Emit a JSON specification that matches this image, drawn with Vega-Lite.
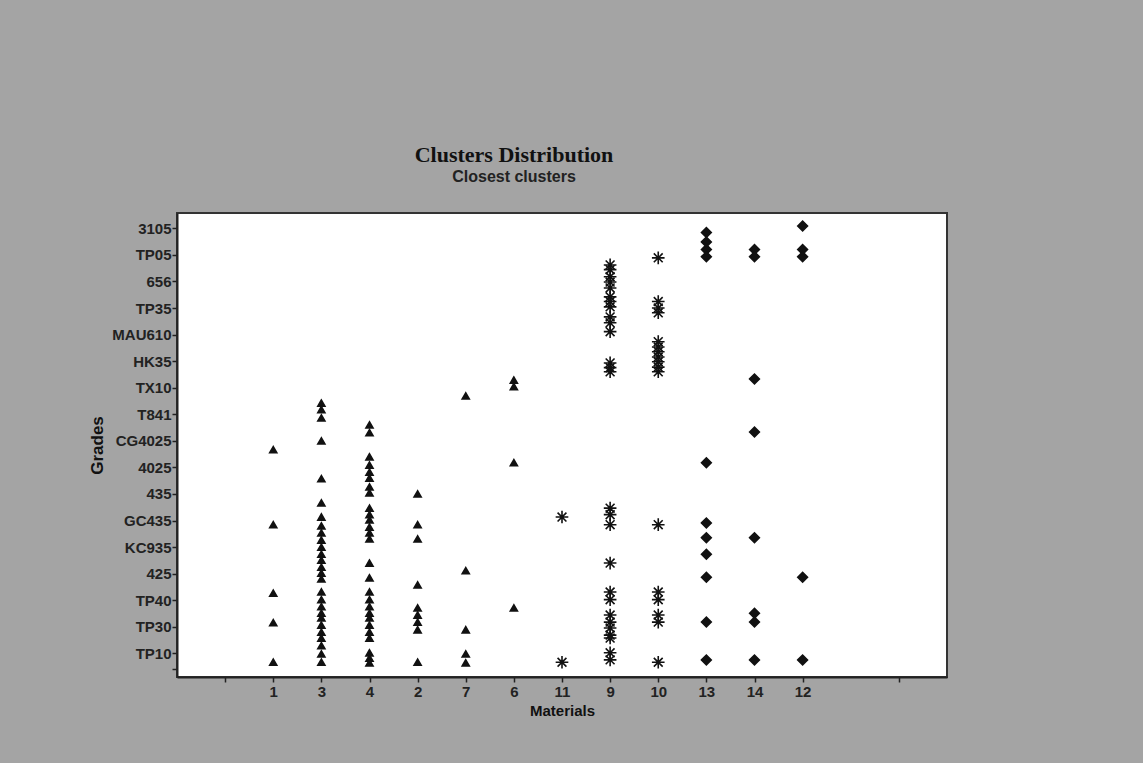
{
  "$schema": "https://vega.github.io/schema/vega-lite/v6.json",
  "autosize": {"type": "none"},
  "width": 770,
  "height": 464,
  "padding": {"left": 177, "top": 213, "right": 196, "bottom": 86},
  "background": "#a4a4a4",
  "title": {
    "text": "Clusters Distribution",
    "subtitle": "Closest clusters",
    "anchor": "middle",
    "dx": -48,
    "offset": 27,
    "font": "Liberation Serif",
    "fontSize": 22,
    "fontWeight": "bold",
    "color": "#111111",
    "subtitleFont": "Liberation Sans",
    "subtitleFontSize": 16,
    "subtitleFontWeight": "bold",
    "subtitleColor": "#222222",
    "subtitlePadding": 2
  },
  "config": {
    "view": {"fill": "#ffffff", "stroke": "#333333", "strokeWidth": 2},
    "axis": {
      "labelFont": "Liberation Sans",
      "labelFontSize": 15,
      "labelFontWeight": "bold",
      "labelColor": "#222222",
      "titleFont": "Liberation Sans",
      "titleFontWeight": "bold",
      "titleColor": "#111111",
      "domainColor": "#222222",
      "domainWidth": 2,
      "tickColor": "#222222",
      "tickWidth": 1.5,
      "grid": false
    }
  },
  "data": {
    "values": [
      {"material": "1", "grade": 38.5, "cluster": "1"},
      {"material": "1", "grade": 25.8, "cluster": "1"},
      {"material": "1", "grade": 14.2, "cluster": "1"},
      {"material": "1", "grade": 9.2, "cluster": "1"},
      {"material": "1", "grade": 2.5, "cluster": "1"},
      {"material": "3", "grade": 46.4, "cluster": "1"},
      {"material": "3", "grade": 45.3, "cluster": "1"},
      {"material": "3", "grade": 43.9, "cluster": "1"},
      {"material": "3", "grade": 40.0, "cluster": "1"},
      {"material": "3", "grade": 33.6, "cluster": "1"},
      {"material": "3", "grade": 29.5, "cluster": "1"},
      {"material": "3", "grade": 27.1, "cluster": "1"},
      {"material": "3", "grade": 25.6, "cluster": "1"},
      {"material": "3", "grade": 24.4, "cluster": "1"},
      {"material": "3", "grade": 23.2, "cluster": "1"},
      {"material": "3", "grade": 22.0, "cluster": "1"},
      {"material": "3", "grade": 20.8, "cluster": "1"},
      {"material": "3", "grade": 19.8, "cluster": "1"},
      {"material": "3", "grade": 18.6, "cluster": "1"},
      {"material": "3", "grade": 17.6, "cluster": "1"},
      {"material": "3", "grade": 16.6, "cluster": "1"},
      {"material": "3", "grade": 14.4, "cluster": "1"},
      {"material": "3", "grade": 13.1, "cluster": "1"},
      {"material": "3", "grade": 11.9, "cluster": "1"},
      {"material": "3", "grade": 10.8, "cluster": "1"},
      {"material": "3", "grade": 10.0, "cluster": "1"},
      {"material": "3", "grade": 8.8, "cluster": "1"},
      {"material": "3", "grade": 7.6, "cluster": "1"},
      {"material": "3", "grade": 6.6, "cluster": "1"},
      {"material": "3", "grade": 5.3, "cluster": "1"},
      {"material": "3", "grade": 3.9, "cluster": "1"},
      {"material": "3", "grade": 2.5, "cluster": "1"},
      {"material": "4", "grade": 42.7, "cluster": "1"},
      {"material": "4", "grade": 41.4, "cluster": "1"},
      {"material": "4", "grade": 37.3, "cluster": "1"},
      {"material": "4", "grade": 35.9, "cluster": "1"},
      {"material": "4", "grade": 34.7, "cluster": "1"},
      {"material": "4", "grade": 33.7, "cluster": "1"},
      {"material": "4", "grade": 32.2, "cluster": "1"},
      {"material": "4", "grade": 31.2, "cluster": "1"},
      {"material": "4", "grade": 28.6, "cluster": "1"},
      {"material": "4", "grade": 27.5, "cluster": "1"},
      {"material": "4", "grade": 26.6, "cluster": "1"},
      {"material": "4", "grade": 25.4, "cluster": "1"},
      {"material": "4", "grade": 24.4, "cluster": "1"},
      {"material": "4", "grade": 23.4, "cluster": "1"},
      {"material": "4", "grade": 19.3, "cluster": "1"},
      {"material": "4", "grade": 16.8, "cluster": "1"},
      {"material": "4", "grade": 14.4, "cluster": "1"},
      {"material": "4", "grade": 13.1, "cluster": "1"},
      {"material": "4", "grade": 11.9, "cluster": "1"},
      {"material": "4", "grade": 10.8, "cluster": "1"},
      {"material": "4", "grade": 10.0, "cluster": "1"},
      {"material": "4", "grade": 8.8, "cluster": "1"},
      {"material": "4", "grade": 7.6, "cluster": "1"},
      {"material": "4", "grade": 6.6, "cluster": "1"},
      {"material": "4", "grade": 4.1, "cluster": "1"},
      {"material": "4", "grade": 3.2, "cluster": "1"},
      {"material": "4", "grade": 2.4, "cluster": "1"},
      {"material": "2", "grade": 31.0, "cluster": "1"},
      {"material": "2", "grade": 25.8, "cluster": "1"},
      {"material": "2", "grade": 23.4, "cluster": "1"},
      {"material": "2", "grade": 15.6, "cluster": "1"},
      {"material": "2", "grade": 11.7, "cluster": "1"},
      {"material": "2", "grade": 10.5, "cluster": "1"},
      {"material": "2", "grade": 9.3, "cluster": "1"},
      {"material": "2", "grade": 8.0, "cluster": "1"},
      {"material": "2", "grade": 2.5, "cluster": "1"},
      {"material": "7", "grade": 47.6, "cluster": "1"},
      {"material": "7", "grade": 18.0, "cluster": "1"},
      {"material": "7", "grade": 8.0, "cluster": "1"},
      {"material": "7", "grade": 3.9, "cluster": "1"},
      {"material": "7", "grade": 2.4, "cluster": "1"},
      {"material": "6", "grade": 50.3, "cluster": "1"},
      {"material": "6", "grade": 49.2, "cluster": "1"},
      {"material": "6", "grade": 36.3, "cluster": "1"},
      {"material": "6", "grade": 11.7, "cluster": "1"},
      {"material": "11", "grade": 27.1, "cluster": "2"},
      {"material": "11", "grade": 2.5, "cluster": "2"},
      {"material": "9", "grade": 69.8, "cluster": "2"},
      {"material": "9", "grade": 69.0, "cluster": "2"},
      {"material": "9", "grade": 67.8, "cluster": "2"},
      {"material": "9", "grade": 66.9, "cluster": "2"},
      {"material": "9", "grade": 65.9, "cluster": "2"},
      {"material": "9", "grade": 64.4, "cluster": "2"},
      {"material": "9", "grade": 63.6, "cluster": "2"},
      {"material": "9", "grade": 62.7, "cluster": "2"},
      {"material": "9", "grade": 61.0, "cluster": "2"},
      {"material": "9", "grade": 60.0, "cluster": "2"},
      {"material": "9", "grade": 58.5, "cluster": "2"},
      {"material": "9", "grade": 53.2, "cluster": "2"},
      {"material": "9", "grade": 52.4, "cluster": "2"},
      {"material": "9", "grade": 51.7, "cluster": "2"},
      {"material": "9", "grade": 28.6, "cluster": "2"},
      {"material": "9", "grade": 27.5, "cluster": "2"},
      {"material": "9", "grade": 25.8, "cluster": "2"},
      {"material": "9", "grade": 19.3, "cluster": "2"},
      {"material": "9", "grade": 14.4, "cluster": "2"},
      {"material": "9", "grade": 13.1, "cluster": "2"},
      {"material": "9", "grade": 10.5, "cluster": "2"},
      {"material": "9", "grade": 9.3, "cluster": "2"},
      {"material": "9", "grade": 8.3, "cluster": "2"},
      {"material": "9", "grade": 7.1, "cluster": "2"},
      {"material": "9", "grade": 6.6, "cluster": "2"},
      {"material": "9", "grade": 4.1, "cluster": "2"},
      {"material": "9", "grade": 2.9, "cluster": "2"},
      {"material": "10", "grade": 71.0, "cluster": "2"},
      {"material": "10", "grade": 63.6, "cluster": "2"},
      {"material": "10", "grade": 62.5, "cluster": "2"},
      {"material": "10", "grade": 61.7, "cluster": "2"},
      {"material": "10", "grade": 56.8, "cluster": "2"},
      {"material": "10", "grade": 55.9, "cluster": "2"},
      {"material": "10", "grade": 55.1, "cluster": "2"},
      {"material": "10", "grade": 54.2, "cluster": "2"},
      {"material": "10", "grade": 53.4, "cluster": "2"},
      {"material": "10", "grade": 52.5, "cluster": "2"},
      {"material": "10", "grade": 51.7, "cluster": "2"},
      {"material": "10", "grade": 25.8, "cluster": "2"},
      {"material": "10", "grade": 14.4, "cluster": "2"},
      {"material": "10", "grade": 13.1, "cluster": "2"},
      {"material": "10", "grade": 10.5, "cluster": "2"},
      {"material": "10", "grade": 9.3, "cluster": "2"},
      {"material": "10", "grade": 2.5, "cluster": "2"},
      {"material": "13", "grade": 75.3, "cluster": "3"},
      {"material": "13", "grade": 73.7, "cluster": "3"},
      {"material": "13", "grade": 72.4, "cluster": "3"},
      {"material": "13", "grade": 71.2, "cluster": "3"},
      {"material": "13", "grade": 36.3, "cluster": "3"},
      {"material": "13", "grade": 26.1, "cluster": "3"},
      {"material": "13", "grade": 23.6, "cluster": "3"},
      {"material": "13", "grade": 20.8, "cluster": "3"},
      {"material": "13", "grade": 16.9, "cluster": "3"},
      {"material": "13", "grade": 9.3, "cluster": "3"},
      {"material": "13", "grade": 2.9, "cluster": "3"},
      {"material": "14", "grade": 72.4, "cluster": "3"},
      {"material": "14", "grade": 71.2, "cluster": "3"},
      {"material": "14", "grade": 50.5, "cluster": "3"},
      {"material": "14", "grade": 41.5, "cluster": "3"},
      {"material": "14", "grade": 23.6, "cluster": "3"},
      {"material": "14", "grade": 10.8, "cluster": "3"},
      {"material": "14", "grade": 9.3, "cluster": "3"},
      {"material": "14", "grade": 2.9, "cluster": "3"},
      {"material": "12", "grade": 76.4, "cluster": "3"},
      {"material": "12", "grade": 72.4, "cluster": "3"},
      {"material": "12", "grade": 71.2, "cluster": "3"},
      {"material": "12", "grade": 16.9, "cluster": "3"},
      {"material": "12", "grade": 2.9, "cluster": "3"}
    ]
  },
  "mark": {"type": "point", "filled": true, "opacity": 1, "stroke": "#111111", "strokeWidth": 1.6, "fill": "#111111"},
  "encoding": {
    "x": {
      "field": "material",
      "type": "ordinal",
      "scale": {
        "type": "point",
        "domain": ["s1", "1", "3", "4", "2", "7", "6", "11", "9", "10", "13", "14", "12", "s14", "s15"],
        "padding": 1
      },
      "axis": {
        "values": ["s1", "1", "3", "4", "2", "7", "6", "11", "9", "10", "13", "14", "12", "s15"],
        "labelExpr": "indexof(datum.value, 's') == 0 ? '' : datum.value",
        "labelAngle": 0,
        "tickSize": 5,
        "labelPadding": 2,
        "title": "Materials",
        "titleFontSize": 15,
        "titlePadding": 4
      }
    },
    "y": {
      "field": "grade",
      "type": "quantitative",
      "scale": {"domain": [0, 78.6], "nice": false, "zero": false},
      "axis": {
        "values": [1.3, 4, 8.5, 13, 17.5, 22, 26.5, 31, 35.5, 40, 44.5, 49, 53.5, 58, 62.5, 67, 71.5, 76],
        "labelExpr": "datum.value < 3 ? '' : ['TP10','TP30','TP40','425','KC935','GC435','435','4025','CG4025','T841','TX10','HK35','MAU610','TP35','656','TP05','3105'][round((datum.value - 4) / 4.5)]",
        "tickSize": 5,
        "labelPadding": 1,
        "title": "Grades",
        "titleFontSize": 17,
        "titlePadding": 5
      }
    },
    "shape": {
      "field": "cluster",
      "type": "nominal",
      "scale": {
        "domain": ["1", "2", "3"],
        "range": ["triangle-up", "M-1,0H1M0,-1V1M-0.7,-0.7L0.7,0.7M-0.7,0.7L0.7,-0.7", "diamond"]
      },
      "legend": null
    },
    "size": {
      "field": "cluster",
      "type": "nominal",
      "scale": {"type": "ordinal", "domain": ["1", "2", "3"], "range": [50, 160, 95]},
      "legend": null
    }
  }
}
